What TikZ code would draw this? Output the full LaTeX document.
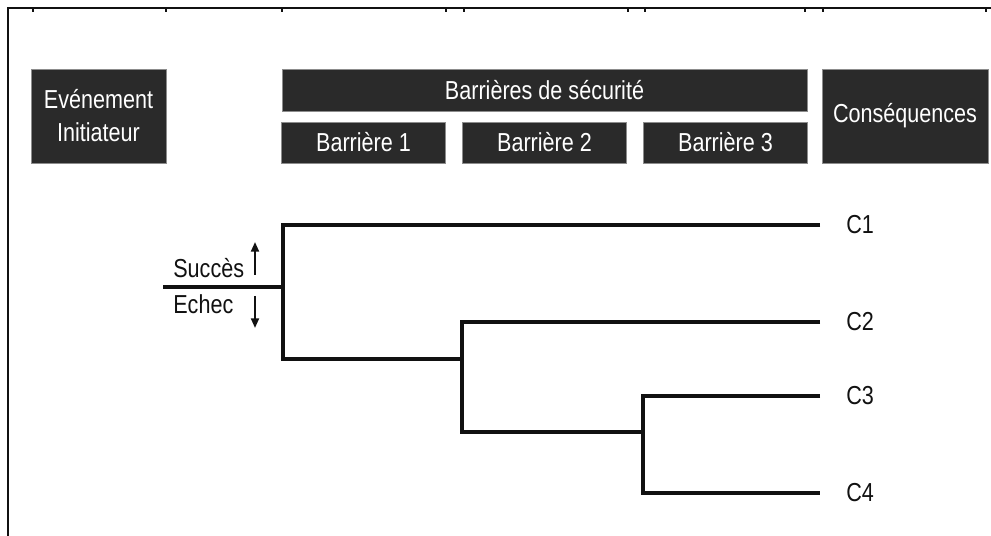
\documentclass[tikz,border=0pt]{standalone}
\usepackage{fontspec}
\setmainfont{Liberation Sans}[FakeStretch=0.83]
\usepackage{xcolor}
\usepackage{tikz}
\usetikzlibrary{arrows.meta,positioning}
\definecolor{BoxFill}{HTML}{2A2A2A}
\definecolor{BoxEdge}{HTML}{8C8C8C}
\definecolor{InkBlack}{HTML}{111111}

\begin{document}
\begin{tikzpicture}[
    x=0.02cm,y=-0.02cm,
    font=\fontsize{14.8}{18.8}\selectfont,
    >=Triangle,
    head/.style={draw=BoxEdge,line width=0.5pt,fill=BoxFill,text=white,
      align=center,inner sep=0pt},
    frame/.style={line width=1.5pt,draw=InkBlack},
    tick/.style={line width=1pt,draw=InkBlack},
    branch/.style={line width=2.3pt,draw=InkBlack,line join=miter},
    sense/.style={->,line width=1.2pt,draw=InkBlack,
      >={Triangle[length=5.5pt,width=4.5pt]}},
    cons/.style={text=InkBlack,inner sep=0pt,anchor=west},
    lbl/.style={text=InkBlack,inner sep=0pt,anchor=west}
  ]
    \useasboundingbox (0,0) rectangle (991,536);

    % Partial frame with its ticks.
    \draw[frame] (8,536) -- (8,8) -- (991,8);
    \foreach \x in {33,166,282,446,464,628,645,805,823,986}
      \draw[tick] (\x,8) -- (\x,12);

    % Header row.
    \node[head,minimum width=2.70cm,minimum height=1.88cm] (initial) at (98.5,116)
      {Evénement\\Initiateur};
    \node[head,minimum width=10.50cm,minimum height=0.84cm] (barriers) at (544.5,90)
      {Barrières de sécurité};
    \node[head,minimum width=3.28cm,minimum height=0.82cm] (bar1) at (363.5,142.5)
      {Barrière 1};
    \node[head,minimum width=3.28cm,minimum height=0.82cm] (bar2) at (544.5,142.5)
      {Barrière 2};
    \node[head,minimum width=3.28cm,minimum height=0.82cm] (bar3) at (725.5,142.5)
      {Barrière 3};
    \node[head,minimum width=3.32cm,minimum height=1.88cm] (conseq) at (905,116)
      {Conséquences};

    % Event tree.
    \coordinate (root) at (163,287);
    \coordinate (split1) at (283,287);
    \coordinate (split2) at (462,359);
    \coordinate (split3) at (643,432);
    \coordinate (end1) at (820,225);
    \coordinate (end2) at (820,322);
    \coordinate (end3) at (820,396);
    \coordinate (end4) at (820,493);

    \node[cons,right=0.52cm of end1] (C1) {C1};
    \node[cons,right=0.52cm of end2] (C2) {C2};
    \node[cons,right=0.52cm of end3] (C3) {C3};
    \node[cons,right=0.52cm of end4] (C4) {C4};

    \draw[branch] (root) -- (split1);
    \draw[branch] (end1) -| (split1) |- (split2);
    \draw[branch] (end2) -| (split2) |- (split3);
    \draw[branch] (end3) -| (split3) |- (end4);

    % Success / failure legend.
    \node[lbl] (success) at (173,268) {Succès};
    \node[lbl] (failure) at (173,304) {Echec};
    \coordinate (upfoot) at (255,275);
    \coordinate (uphead) at (255,242);
    \coordinate (downfoot) at (255,296);
    \coordinate (downhead) at (255,328);
    \draw[sense] (upfoot) -- (uphead);
    \draw[sense] (downfoot) -- (downhead);
  \end{tikzpicture}
\end{document}
